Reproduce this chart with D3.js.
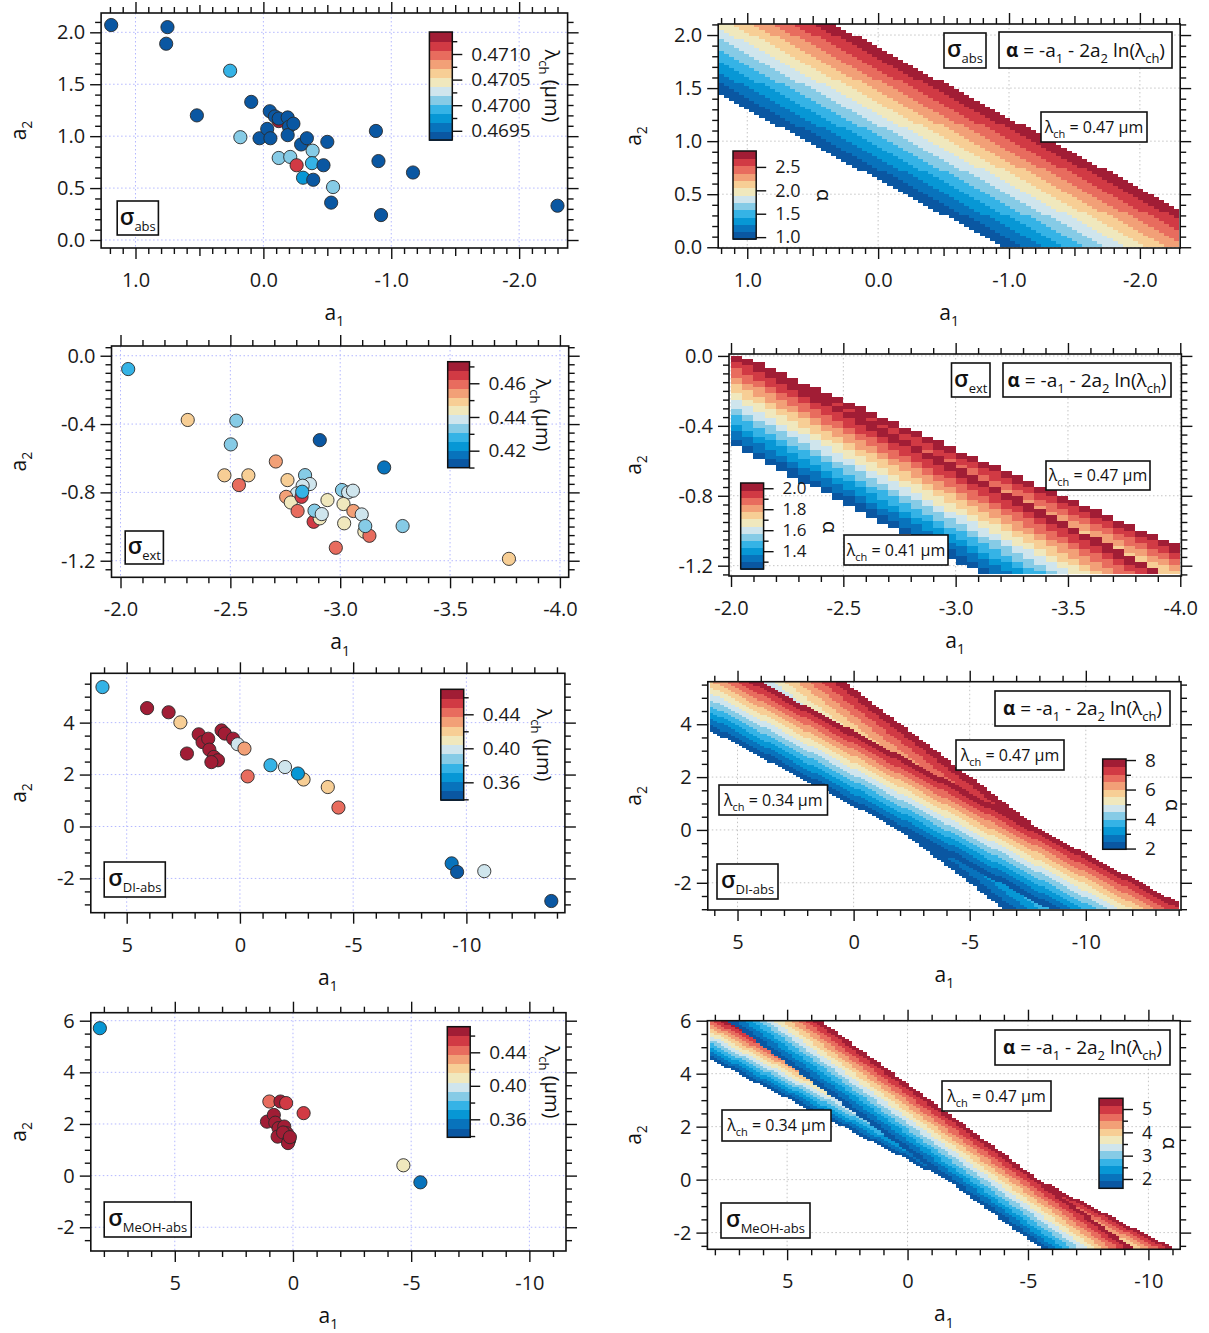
<!doctype html>
<html>
<head>
<meta charset="utf-8">
<script src="https://d3js.org/d3.v7.min.js"></script>
<style>
body { margin: 0; background: #fff; }
svg { font-family: "Open Sans", "DejaVu Sans", sans-serif; }
</style>
</head>
<body>
<svg id="fig" width="1209" height="1333"></svg>

<script type="text/javascript">
// 12 discrete colour levels, low -> high
var levelColors = ["#0a57a2", "#0873bc", "#0797d5", "#35b3e6", "#86cbe6", "#cfe5ed",
                   "#f0e8bd", "#f7ce95", "#f2a077", "#e86c5e", "#d13a44", "#a11d35"];

// sigma_abs scatter
var absA1 = [1.19, 0.75, 0.76, 0.26, 0.52, 0.095, 0.18, 0.03, -0.05, -0.03, -0.055, -0.12, -0.09, -0.12,
             -0.19, -0.2, -0.19, -0.235, -0.12, -0.21, -0.26, -0.31, -0.295, -0.34, -0.39, -0.385, -0.38,
             -0.47, -0.50, -0.545, -0.53, -0.88, -0.90, -0.92, -1.17, -2.30];
var absA2 = [2.07, 2.05, 1.89, 1.63, 1.20, 1.33, 0.99, 0.98, 1.24, 1.07, 0.98, 1.145, 1.19, 1.17,
             1.18, 1.09, 1.01, 1.12, 0.79, 0.80, 0.72, 0.60, 0.92, 0.98, 0.58, 0.86, 0.74,
             0.72, 0.945, 0.51, 0.36, 1.05, 0.76, 0.24, 0.65, 0.33];
var absLam = [0.4694, 0.4694, 0.4694, 0.4699, 0.4694, 0.4694, 0.4701, 0.4694, 0.4694, 0.4694, 0.4694, 0.4713, 0.4694, 0.4694,
              0.4694, 0.4694, 0.4694, 0.4694, 0.4701, 0.4701, 0.4712, 0.4698, 0.4694, 0.4694, 0.4694, 0.4701, 0.4699,
              0.4694, 0.4694, 0.4701, 0.4694, 0.4694, 0.4694, 0.4694, 0.4694, 0.4694];

// sigma_ext scatter
var extA1 = [-2.035, -2.306, -2.527, -2.502, -2.907, -3.20, -2.707, -2.473, -2.582, -2.539, -2.76, -2.84, -2.862,
             -2.829, -2.803, -2.754, -2.775, -2.824, -2.827, -2.806, -2.879, -2.907, -2.883, -2.916, -2.942, -3.008,
             -3.036, -3.058, -3.015, -3.06, -3.098, -3.018, -3.11, -3.133, -3.114, -3.284, -2.98, -3.768];
var extA2 = [-0.078, -0.376, -0.38, -0.519, -0.494, -0.654, -0.619, -0.70, -0.70, -0.757, -0.728, -0.699, -0.751,
             -0.761, -0.806, -0.826, -0.859, -0.826, -0.796, -0.909, -0.972, -0.952, -0.907, -0.927, -0.845, -0.786,
             -0.80, -0.79, -0.868, -0.909, -0.929, -0.981, -1.03, -1.054, -0.997, -0.997, -1.124, -1.189];
var extLam = [0.428, 0.449, 0.4335, 0.4335, 0.4125, 0.4177, 0.4544, 0.449, 0.449, 0.4597, 0.449, 0.4335, 0.4387,
              0.4387, 0.4387, 0.4544, 0.444, 0.4649, 0.428, 0.4597, 0.4649, 0.444, 0.4335, 0.4387, 0.444, 0.4335,
              0.4387, 0.4387, 0.444, 0.4544, 0.4387, 0.444, 0.444, 0.4597, 0.4335, 0.4335, 0.4597, 0.449];

// sigma_DI-abs scatter
var diA1 = [6.07, 4.10, 3.15, 2.63, 2.34, 1.82, 1.65, 1.40, 1.35, 1.15, 0.97, 1.26, 0.81, 0.67, 0.30,
            0.10, -0.20, -0.34, -1.35, -1.99, -2.81, -2.56, -3.88, -4.35, -9.35, -9.59, -10.79, -13.75];
var diA2 = [5.37, 4.56, 4.40, 4.01, 2.81, 3.55, 3.25, 3.38, 2.96, 2.68, 2.55, 2.48, 3.70, 3.58, 3.38,
            3.17, 3.00, 1.93, 2.36, 2.29, 1.81, 2.04, 1.52, 0.73, -1.42, -1.75, -1.72, -2.87];
var diLam = [0.377, 0.464, 0.464, 0.4206, 0.464, 0.464, 0.464, 0.464, 0.464, 0.464, 0.464, 0.464, 0.464, 0.464, 0.464,
             0.3989, 0.4314, 0.4423, 0.377, 0.3989, 0.4206, 0.366, 0.4206, 0.4423, 0.3555, 0.3446, 0.3989, 0.3446];

// sigma_MeOH-abs scatter
var meA1 = [8.17, 1.0, 0.53, 0.29, -0.45, 1.10, 0.81, 0.75, 0.61, 0.37, 0.65, 0.26, 0.42, 0.16, 0.21, 0.13, -4.67, -5.39];
var meA2 = [5.71, 2.87, 2.87, 2.81, 2.42, 2.09, 2.35, 2.05, 1.84, 1.90, 1.51, 1.64, 1.67, 1.38, 1.26, 1.49, 0.40, -0.26];
var meLam = [0.366, 0.443, 0.465, 0.454, 0.454, 0.465, 0.465, 0.465, 0.465, 0.465, 0.465, 0.465, 0.465, 0.465, 0.465, 0.465, 0.41, 0.355];

// tick values
var absTicksX = [1, 0, -1, -2], absTicksY = [0, 0.5, 1, 1.5, 2];
var extTicksX = [-2, -2.5, -3, -3.5, -4], extTicksY = [0, -0.4, -0.8, -1.2];
var diTicksX = [5, 0, -5, -10], diTicksY = [-2, 0, 2, 4];
var meTicksX = [5, 0, -5, -10], meTicksY = [-2, 0, 2, 4, 6];
var absLamTicks = [0.4695, 0.4700, 0.4705, 0.4710];
var extLamTicks = [0.42, 0.44, 0.46];
var diLamTicks = [0.36, 0.40, 0.44];
var meLamTicks = [0.36, 0.40, 0.44];
var absAlphaTicks = [1.0, 1.5, 2.0, 2.5];
var extAlphaTicks = [1.4, 1.6, 1.8, 2.0];
var diAlphaTicks = [2, 4, 6, 8];
var meAlphaTicks = [2, 3, 4, 5];

// lambda_ch used for each alpha map (drawn in this order)
var absMapLam = [0.47];
var extMapLam = [0.41, 0.47];
var diMapLam = [0.47, 0.34];
var meMapLam = [0.34, 0.47];

var svg = d3.select("#fig");
var f1 = function(d) { return d.toFixed(1); };
var f2 = function(d) { return d.toFixed(2); };
var f4 = function(d) { return d.toFixed(4); };
var f0 = function(d) { return String(d); };

function steps(dom, step, skip) {
  var lo = Math.min(dom[0], dom[1]), hi = Math.max(dom[0], dom[1]);
  var out = [];
  for (var k = Math.ceil(lo / step - 1e-9); k <= Math.floor(hi / step + 1e-9); k++) {
    var v = k * step;
    if (!skip.some(function(s) { return Math.abs(s - v) < step * 0.01; })) out.push(v);
  }
  return out;
}

// text with subscripts: parts = [[text, kind]], kind "", "sub", "b", "big"
function rich(g, x, y, parts, size, anchor) {
  var t = g.append("text").attr("x", x).attr("y", y)
    .attr("text-anchor", anchor || "middle").style("font-size", size + "px").attr("fill", "#111");
  var shift = 0;
  parts.forEach(function(p) {
    var ts = t.append("tspan").text(p[0]);
    if (p[1] === "sub") {
      ts.style("font-size", Math.round(size * 0.66) + "px").attr("dy", 0.3 * size - shift);
      shift = 0.3 * size;
    } else {
      if (shift) { ts.attr("dy", -shift); shift = 0; }
      if (p[1] === "b") ts.style("font-weight", "bold");
      if (p[1] === "big") ts.style("font-size", Math.round(size * 1.2) + "px").style("font-weight", "600");
    }
  });
  return t;
}

function box(g, b, parts, size) {
  g.append("rect").attr("x", b[0]).attr("y", b[1]).attr("width", b[2]).attr("height", b[3])
    .attr("fill", "#fff").attr("stroke", "#111").attr("stroke-width", 1.6);
  rich(g, b[0] + b[2] / 2, b[1] + b[3] / 2 + size * 0.36, parts, size);
}

function addAxis(g, axis, tx, ty, fs) {
  var a = g.append("g").attr("transform", "translate(" + tx + "," + ty + ")").call(axis);
  a.attr("font-family", null).attr("font-size", null);
  a.select(".domain").remove();
  a.selectAll("line").attr("stroke", "#111").attr("stroke-width", 1.4);
  a.selectAll("text").style("font-size", (fs || 20) + "px").attr("fill", "#1a1a1a");
  return a;
}

function grid(g, c, xs, ys, color) {
  var fr = c.fr;
  g.append("g").selectAll("line").data(c.xt).join("line")
    .attr("x1", function(d) { return xs(d); }).attr("x2", function(d) { return xs(d); })
    .attr("y1", fr.y0).attr("y2", fr.y1)
    .attr("stroke", color).attr("stroke-width", 1).attr("stroke-dasharray", "1.5,2.5");
  g.append("g").selectAll("line").data(c.yt).join("line")
    .attr("y1", function(d) { return ys(d); }).attr("y2", function(d) { return ys(d); })
    .attr("x1", fr.x0).attr("x2", fr.x1)
    .attr("stroke", color).attr("stroke-width", 1).attr("stroke-dasharray", "1.5,2.5");
}

function frameAxes(g, c, xs, ys) {
  var fr = c.fr;
  var xMid = c.xMid ? steps(c.xd, c.xMid, c.xt) : [];
  var xMin = steps(c.xd, c.xMinor, c.xt.concat(xMid));
  var yMin = steps(c.yd, c.yMinor, c.yt);
  addAxis(g, d3.axisBottom(xs).tickValues(c.xt).tickSize(11).tickPadding(14).tickFormat(c.fx), 0, fr.y1);
  addAxis(g, d3.axisTop(xs).tickValues(c.xt).tickSize(11).tickFormat(""), 0, fr.y0);
  addAxis(g, d3.axisLeft(ys).tickValues(c.yt).tickSize(11).tickPadding(5).tickFormat(c.fy), fr.x0, 0);
  addAxis(g, d3.axisRight(ys).tickValues(c.yt).tickSize(11).tickFormat(""), fr.x1, 0);
  [[d3.axisBottom, 0, fr.y1], [d3.axisTop, 0, fr.y0]].forEach(function(s) {
    addAxis(g, s[0](xs).tickValues(xMin).tickSize(6).tickFormat(""), s[1], s[2]);
    if (xMid.length) addAxis(g, s[0](xs).tickValues(xMid).tickSize(8).tickFormat(""), s[1], s[2]);
  });
  [[d3.axisLeft, fr.x0], [d3.axisRight, fr.x1]].forEach(function(s) {
    addAxis(g, s[0](ys).tickValues(yMin).tickSize(6).tickFormat(""), s[1], 0);
  });
  g.append("rect").attr("x", fr.x0).attr("y", fr.y0)
    .attr("width", fr.x1 - fr.x0).attr("height", fr.y1 - fr.y0)
    .attr("fill", "none").attr("stroke", "#111").attr("stroke-width", 1.6);
  rich(g, (fr.x0 + fr.x1) / 2, fr.y1 + 72, [["a", ""], ["1", "sub"]], 21);
  var ly = g.append("g").attr("transform", "translate(" + (c.side === "L" ? 26 : 641) + "," + ((fr.y0 + fr.y1) / 2) + ") rotate(-90)");
  rich(ly, 0, 0, [["a", ""], ["2", "sub"]], 21);
}

function colorbar(g, c, label) {
  var cb = c.cb, dom = c.cbd;
  var cs = d3.scaleLinear().domain(dom).range([cb.y1, cb.y0]);
  var w = (dom[1] - dom[0]) / levelColors.length;
  g.append("g").selectAll("rect").data(levelColors).join("rect")
    .attr("x", cb.x0).attr("width", cb.x1 - cb.x0)
    .attr("y", function(d, i) { return cs(dom[0] + (i + 1) * w); })
    .attr("height", function(d, i) { return cs(dom[0] + i * w) - cs(dom[0] + (i + 1) * w) + 0.5; })
    .attr("fill", function(d) { return d; }).attr("shape-rendering", "crispEdges");
  g.append("rect").attr("x", cb.x0).attr("y", cb.y0).attr("width", cb.x1 - cb.x0).attr("height", cb.y1 - cb.y0)
    .attr("fill", "none").attr("stroke", "#111").attr("stroke-width", 1.5);
  addAxis(g, d3.axisRight(cs).tickValues(c.cbt).tickSize(10).tickPadding(9).tickFormat(c.cbf), cb.x1, 0, c.cbFs);
  if (c.cbMinor) addAxis(g, d3.axisRight(cs).tickValues(steps(dom, c.cbMinor, c.cbt)).tickSize(5).tickFormat(""), cb.x1, 0);
  var lg = g.append("g").attr("transform", "translate(" + c.cbLab[0] + "," + c.cbLab[1] + ") rotate(90)");
  rich(lg, 0, 7, label, 20);
}

function scatterPanel(c) {
  var g = svg.append("g");
  var xs = d3.scaleLinear().domain(c.xd).range([c.fr.x0, c.fr.x1]);
  var ys = d3.scaleLinear().domain(c.yd).range([c.fr.y0, c.fr.y1]);
  var col = d3.scaleQuantize().domain(c.cbd).range(levelColors);
  grid(g, c, xs, ys, "#b4b8ff");
  g.append("g").selectAll("circle").data(c.a1).join("circle")
    .attr("cx", function(d) { return xs(d); })
    .attr("cy", function(d, i) { return ys(c.a2[i]); })
    .attr("r", 6.6)
    .attr("fill", function(d, i) { return col(c.lam[i]); })
    .attr("stroke", "#2a2a2a").attr("stroke-width", 0.9);
  frameAxes(g, c, xs, ys);
  colorbar(g, c, [["λ", ""], ["ch", "sub"], [" (μm)", ""]]);
  box(g, c.box, [["σ", "big"], [c.name, "sub"]], 19);
}

function fieldPanel(c) {
  var g = svg.append("g");
  var xs = d3.scaleLinear().domain(c.xd).range([c.fr.x0, c.fr.x1]);
  var ys = d3.scaleLinear().domain(c.yd).range([c.fr.y0, c.fr.y1]);
  var lo = c.cbd[0], hi = c.cbd[1];
  var col = d3.scaleQuantize().domain(c.cbd).range(levelColors);
  grid(g, c, xs, ys, "#c4c4c4");
  var dx = (c.gx[1] - c.gx[0]) / c.nx, dy = (c.gy[1] - c.gy[0]) / c.ny;
  c.lams.forEach(function(lam) {
    var k = -2 * Math.log(lam);
    var runs = [];
    for (var j = 0; j < c.ny; j++) {
      var b = c.gy[0] + j * dy, a2c = b + dy / 2, cur = null;
      for (var i = 0; i < c.nx; i++) {
        var a = c.gx[0] + i * dx;
        var al = -(a + dx / 2) + k * a2c;
        var band = (al >= lo && al <= hi) ? col(al) : null;
        if (cur && cur.c === band) { cur.e = a + dx; }
        else {
          if (cur && cur.c) runs.push(cur);
          cur = { s: a, e: a + dx, b0: b, b1: b + dy, c: band };
        }
      }
      if (cur && cur.c) runs.push(cur);
    }
    g.append("g").selectAll("rect").data(runs).join("rect")
      .attr("x", function(d) { return Math.round(Math.min(xs(d.s), xs(d.e))); })
      .attr("width", function(d) { return Math.round(Math.max(xs(d.s), xs(d.e))) - Math.round(Math.min(xs(d.s), xs(d.e))); })
      .attr("y", function(d) { return Math.round(ys(d.b1)); })
      .attr("height", function(d) { return Math.round(ys(d.b0)) - Math.round(ys(d.b1)); })
      .attr("fill", function(d) { return d.c; })
      .attr("shape-rendering", "crispEdges");
  });
  frameAxes(g, c, xs, ys);
  colorbar(g, c, [["α", ""]]);
  var formula = [["α", "b"], [" = -a", ""], ["1", "sub"], [" - 2a", ""], ["2", "sub"], [" ln(λ", ""], ["ch", "sub"], [")", ""]];
  box(g, c.fbox, formula, 19);
  if (c.sbox) box(g, c.sbox, [["σ", "big"], [c.name, "sub"]], 19);
  c.lboxes.forEach(function(lb) {
    box(g, lb[0], [["λ", ""], ["ch", "sub"], [" = " + lb[1].toFixed(2) + " μm", ""]], 16);
  });
}

scatterPanel({
  side: "L", fr: { x0: 101.1, x1: 567.6, y0: 13, y1: 248 }, xd: [1.269, -2.379], yd: [2.186, -0.077],
  xt: absTicksX, yt: absTicksY, xMinor: 0.1, xMid: 0.5, yMinor: 0.1, fx: f1, fy: f1,
  a1: absA1, a2: absA2, lam: absLam,
  cb: { x0: 429.4, x1: 452.3, y0: 32, y1: 140 }, cbd: [0.46932, 0.47143], cbt: absLamTicks, cbMinor: 0.00025, cbf: f4, cbFs: 19,
  cbLab: [552, 86], box: [117.2, 201, 41.2, 34], name: "abs"
});
scatterPanel({
  side: "L", fr: { x0: 111.5, x1: 568.7, y0: 346, y1: 577.3 }, xd: [-1.959, -4.04], yd: [0.057, -1.297],
  xt: extTicksX, yt: extTicksY, xMinor: 0.1, yMinor: 0.05, fx: f1, fy: f1,
  a1: extA1, a2: extA2, lam: extLam,
  cb: { x0: 447.7, x1: 469.5, y0: 361.7, y1: 467.7 }, cbd: [0.4099, 0.4728], cbt: extLamTicks, cbMinor: 0.01, cbf: f2, cbFs: 19,
  cbLab: [543, 415], box: [125.2, 531, 38.2, 33], name: "ext"
});
scatterPanel({
  side: "L", fr: { x0: 90.8, x1: 564.9, y0: 673.3, y1: 912.7 }, xd: [6.585, -14.35], yd: [5.9, -3.32],
  xt: diTicksX, yt: diTicksY, xMinor: 1, yMinor: 0.5, fx: f0, fy: f0,
  a1: diA1, a2: diA2, lam: diLam,
  cb: { x0: 440.8, x1: 463.7, y0: 689.3, y1: 800 }, cbd: [0.3392, 0.4694], cbt: diLamTicks, cbMinor: 0.02, cbf: f2, cbFs: 19,
  cbLab: [544, 745], box: [104.2, 862, 61.1, 35], name: "DI-abs"
});
scatterPanel({
  side: "L", fr: { x0: 90.8, x1: 566, y0: 1012.7, y1: 1251 }, xd: [8.553, -11.55], yd: [6.31, -2.92],
  xt: meTicksX, yt: meTicksY, xMinor: 1, yMinor: 0.5, fx: f0, fy: f0,
  a1: meA1, a2: meA2, lam: meLam,
  cb: { x0: 447.3, x1: 470.2, y0: 1026.7, y1: 1137.3 }, cbd: [0.3385, 0.4706], cbt: meLamTicks, cbMinor: 0.02, cbf: f2, cbFs: 19,
  cbLab: [552, 1082], box: [104.2, 1202, 87, 35], name: "MeOH-abs"
});

fieldPanel({
  side: "R", fr: { x0: 718.2, x1: 1180.2, y0: 24, y1: 248 }, xd: [1.222, -2.308], yd: [2.104, -0.007],
  xt: absTicksX, yt: absTicksY, xMinor: 0.1, xMid: 0.5, yMinor: 0.1, fx: f1, fy: f1,
  gx: [1.22, -2.3], gy: [0, 2.1], nx: 90, ny: 76, lams: absMapLam,
  cb: { x0: 733, x1: 756.2, y0: 151, y1: 239 }, cbd: [0.96, 2.84], cbt: absAlphaTicks, cbMinor: 0, cbf: f1, cbFs: 18,
  cbLab: [824, 195], fbox: [999, 32, 173, 36], sbox: [944, 33, 42, 35], name: "abs",
  lboxes: [[[1041, 112, 106, 30], 0.47]]
});
fieldPanel({
  side: "R", fr: { x0: 729, x1: 1181.4, y0: 354, y1: 576 }, xd: [-1.991, -4.005], yd: [0.011, -1.259],
  xt: extTicksX, yt: extTicksY, xMinor: 0.1, yMinor: 0.05, fx: f1, fy: f1,
  gx: [-2, -4], gy: [-1.25, 0], nx: 40, ny: 70, lams: extMapLam,
  cb: { x0: 740.7, x1: 763.6, y0: 483, y1: 569 }, cbd: [1.23, 2.05], cbt: extAlphaTicks, cbMinor: 0.1, cbf: f1, cbFs: 17,
  cbLab: [830, 527], fbox: [1003, 363, 168, 34], sbox: [951.5, 363, 38.5, 34], name: "ext",
  lboxes: [[[1046, 461, 104, 29], 0.47], [[844, 535, 104, 30], 0.41]]
});
fieldPanel({
  side: "R", fr: { x0: 707.8, x1: 1181, y0: 681.7, y1: 910 }, xd: [6.28, -14.1], yd: [5.61, -3.03],
  xt: diTicksX, yt: diTicksY, xMinor: 1, yMinor: 0.5, fx: f0, fy: f0,
  gx: [6.2, -14], gy: [-3, 5.6], nx: 130, ny: 110, lams: diMapLam,
  cb: { x0: 1102.7, x1: 1126, y0: 759, y1: 849.3 }, cbd: [1.95, 8.07], cbt: diAlphaTicks, cbMinor: 1, cbf: f0, cbFs: 19,
  cbLab: [1173, 805], fbox: [995, 691, 175, 35], sbox: [717, 864, 61, 35], name: "DI-abs",
  lboxes: [[[956, 740, 108, 30], 0.47], [[719, 785, 108.5, 30], 0.34]]
});
fieldPanel({
  side: "R", fr: { x0: 707.4, x1: 1180.2, y0: 1020.7, y1: 1249.3 }, xd: [8.31, -11.32], yd: [6.0, -2.63],
  xt: meTicksX, yt: meTicksY, xMinor: 1, yMinor: 0.5, fx: f0, fy: f0,
  gx: [8.2, -11], gy: [-2.6, 6], nx: 130, ny: 110, lams: meMapLam,
  cb: { x0: 1099, x1: 1123, y0: 1098.3, y1: 1188.3 }, cbd: [1.6, 5.46], cbt: meAlphaTicks, cbMinor: 0.5, cbf: f0, cbFs: 18,
  cbLab: [1170, 1143], fbox: [995, 1030, 175, 35], sbox: [721, 1203, 89, 35], name: "MeOH-abs",
  lboxes: [[[942, 1081, 109, 30], 0.47], [[722, 1110, 109, 31], 0.34]]
});
</script>
</body>
</html>
